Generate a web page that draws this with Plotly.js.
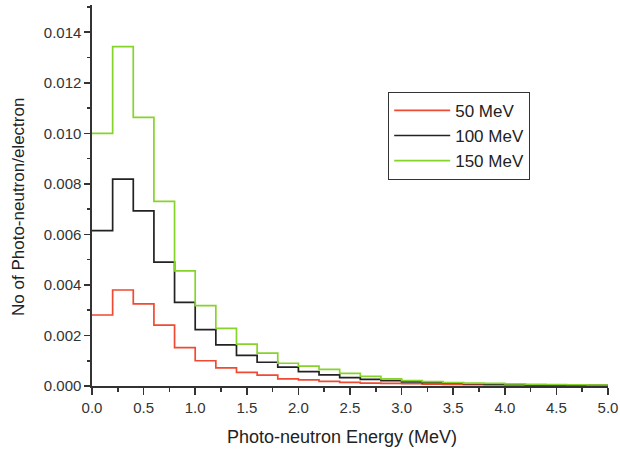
<!DOCTYPE html>
<html>
<head>
<meta charset="utf-8">
<script src="https://cdn.plot.ly/plotly-3.0.1.min.js"></script>
<style>html,body{margin:0;padding:0;background:#fff}#chart{width:620px;height:451px}</style>
</head>
<body>
<div id="chart"></div>
<script>
// Bin edges (MeV): left edges of the 0.2 MeV bins, plus final edge 5.0
const binEdges = [0.0,0.2,0.4,0.6,0.8,1.0,1.2,1.4,1.6,1.8,2.0,2.2,2.4,2.6,2.8,3.0,3.2,3.4,3.6,3.8,4.0,4.2,4.4,4.6,4.8,5.0];

// Photo-neutrons per electron in each bin
const mev50  = [0.00281,0.00380,0.00325,0.00241,0.00152,0.00100,0.00072,0.00054,0.00043,0.00028,0.00024,0.00018,0.00014,0.00011,0.00010,0.00009,0.00007,0.00006,0.00005,0.00004,0.00004,0.00003,0.00003,0.00002,0.00002];
const mev100 = [0.00615,0.00819,0.00693,0.00490,0.00331,0.00223,0.00163,0.00121,0.00094,0.00075,0.00057,0.00044,0.00033,0.00026,0.00021,0.00016,0.00013,0.00011,0.00009,0.00007,0.00006,0.00005,0.00004,0.00003,0.00003];
const mev150 = [0.01000,0.01343,0.01063,0.00731,0.00456,0.00318,0.00228,0.00166,0.00130,0.00090,0.00079,0.00066,0.00050,0.00038,0.00028,0.00021,0.00017,0.00013,0.00011,0.00010,0.00008,0.00007,0.00006,0.00005,0.00004];

const seriesNames = ['50 MeV','100 MeV','150 MeV'];
const seriesColors = ['#f04a32','#222222','#86d42a'];
const xTicks = [0,0.5,1,1.5,2,2.5,3,3.5,4,4.5,5];
const yTicks = [0,0.002,0.004,0.006,0.008,0.010,0.012,0.014];

function stepY(vals){ return vals.concat([vals[vals.length-1]]); }

const traces = [mev50, mev100, mev150].map((v,i)=>({
  x: binEdges,
  y: stepY(v),
  type: 'scatter',
  mode: 'lines',
  line: {shape: 'hv', color: seriesColors[i], width: 1.7},
  name: seriesNames[i]
}));

const ff = 'Liberation Sans, Arial, sans-serif';

const layout = {
  width: 620, height: 451,
  margin: {l: 92, r: 12, t: 5, b: 65},
  paper_bgcolor: '#fff', plot_bgcolor: '#fff',
  font: {family: ff, color: '#222'},
  showlegend: true,
  legend: {
    x: 0.574, y: 0.772, xanchor: 'left', yanchor: 'top',
    bordercolor: '#333', borderwidth: 1, itemwidth: 56,
    font: {family: ff, size: 17, color: '#222'},
    bgcolor: '#fff', tracegroupgap: 0
  },
  xaxis: {
    range: [0, 5.0], tickvals: xTicks, tickformat: '.1f',
    showgrid: false, zeroline: false, showline: true, linecolor: '#333', linewidth: 1.6,
    ticks: 'outside', ticklen: 7, tickwidth: 1.6, tickcolor: '#333',
    minor: {dtick: 0.25, ticklen: 4, tickwidth: 1.6, tickcolor: '#333', ticks: 'outside', showgrid: false},
    tickfont: {family: ff, size: 15, color: '#333'}
  },
  yaxis: {
    range: [0, 0.01508], tickvals: yTicks, tickformat: '.3f',
    showgrid: false, zeroline: false, showline: true, linecolor: '#333', linewidth: 1.6,
    ticks: 'outside', ticklen: 6, tickwidth: 1.6, tickcolor: '#333',
    minor: {dtick: 0.001, ticklen: 3, tickwidth: 1.6, tickcolor: '#333', ticks: 'outside', showgrid: false},
    tickfont: {family: ff, size: 15, color: '#333'}
  },
  annotations: [
    {text: 'Photo-neutron Energy (MeV)', xref: 'paper', yref: 'paper', x: 0.484, y: -0.134,
     xanchor: 'center', yanchor: 'middle', showarrow: false, font: {family: ff, size: 18, color: '#222'}},
    {text: 'No of Photo-neutron/electron', xref: 'paper', yref: 'paper', x: -0.1415, y: 0.47,
     xanchor: 'center', yanchor: 'middle', textangle: -90, showarrow: false, font: {family: ff, size: 17, color: '#222'}}
  ]
};

Plotly.newPlot('chart', traces, layout, {displayModeBar: false, staticPlot: true});
</script>
</body>
</html>
